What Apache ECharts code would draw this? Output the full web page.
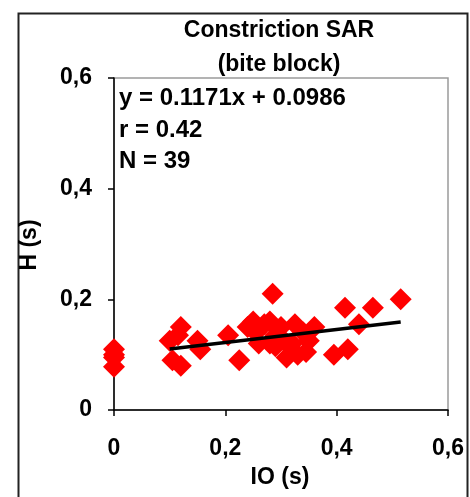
<!DOCTYPE html>
<html>
<head>
<meta charset="utf-8">
<script src="https://cdn.jsdelivr.net/npm/echarts@6/dist/echarts.min.js"></script>
<style>html,body{margin:0;padding:0;background:#fff;}#c{width:470px;height:497px;}</style>
</head>
<body>
<div id="c"></div>
<script>
var ioValues = [0,0,0,0, 0.12,0.115,0.1,0.15,0.105,0.12,0.155, 0.205,0.225,
  0.24,0.255,0.27,0.28,0.26,0.28,0.29,0.3,0.31,0.25,0.29, 0.285,
  0.325,0.34,0.36,0.33,0.345,0.32,0.31,0.35,0.3,
  0.395,0.415,0.42,0.44,0.465,0.515];
var hValues = [0.11,0.1,0.095,0.078, 0.15,0.135,0.125,0.125,0.09,0.08,0.11, 0.135,0.09,
  0.15,0.14,0.155,0.16,0.12,0.12,0.135,0.15,0.12,0.16,0.115, 0.21,
  0.155,0.14,0.15,0.1,0.105,0.12,0.095,0.125,0.13,
  0.1,0.185,0.11,0.155,0.185,0.2];
var trendCoef = [0.1171, 0.0986];
var tickLabels = ['0','0,2','0,4','0,6'];
var titleLines = ['Constriction SAR','(bite block)'];
var statLines = ['y = 0.1171x + 0.0986','r = 0.42','N = 39'];

var pts = ioValues.map(function(x,i){return [x,hValues[i]];});
var pos = ioValues.filter(function(x){return x>0;});
var tx0 = Math.min.apply(null,pos), tx1 = Math.max.apply(null,ioValues);
var trend = [[tx0, trendCoef[0]*tx0+trendCoef[1]],[tx1, trendCoef[0]*tx1+trendCoef[1]]];
function fmt(v){ return tickLabels[Math.round(v/0.2)]; }
var F = 'Liberation Sans, Arial, sans-serif';
var chart = echarts.init(document.getElementById('c'));
chart.setOption({
  animation:false,
  backgroundColor:'#fff',
  grid:{left:114, top:78, right:22, bottom:87, show:true, borderColor:'#9a9a9a', borderWidth:1.5, backgroundColor:'#fff'},
  xAxis:{type:'value', min:0, max:0.6, interval:0.2,
    axisLine:{onZero:false, lineStyle:{color:'#000', width:1.5}},
    axisTick:{show:true, length:6, inside:false, lineStyle:{color:'#000', width:1.5}},
    splitLine:{show:false},
    axisLabel:{formatter:fmt, margin:27, color:'#000', fontFamily:F, fontWeight:'bold', fontSize:23}},
  yAxis:{type:'value', min:0, max:0.6, interval:0.2,
    axisLine:{show:true, onZero:false, lineStyle:{color:'#000', width:1.5}},
    axisTick:{show:true, length:6, inside:false, lineStyle:{color:'#000', width:1.5}},
    splitLine:{show:false},
    axisLabel:{formatter:fmt, margin:22, color:'#000', fontFamily:F, fontWeight:'bold', fontSize:23}},
  series:[
    {type:'scatter', data:pts, symbol:'diamond', symbolSize:22, itemStyle:{color:'#ff0000', opacity:1}, z:2},
    {type:'line', data:trend, symbol:'none', lineStyle:{color:'#000', width:3.5}, z:3}
  ],
  graphic:[
    {type:'rect', left:16, top:11, shape:{width:449, height:500}, style:{fill:'none', stroke:'#222', lineWidth:2}, z:-1, silent:true},
    {type:'text', x:279, y:31, style:{text:titleLines[0], font:'bold 23px '+F, fill:'#000', textAlign:'center', textVerticalAlign:'middle'}},
    {type:'text', x:279, y:65, style:{text:titleLines[1], font:'bold 23px '+F, fill:'#000', textAlign:'center', textVerticalAlign:'middle'}},
    {type:'text', x:119, y:98, style:{text:statLines[0], font:'bold 24px '+F, fill:'#000', textAlign:'left', textVerticalAlign:'middle'}, z:10},
    {type:'text', x:119, y:130, style:{text:statLines[1], font:'bold 24px '+F, fill:'#000', textAlign:'left', textVerticalAlign:'middle'}, z:10},
    {type:'text', x:119, y:161, style:{text:statLines[2], font:'bold 24px '+F, fill:'#000', textAlign:'left', textVerticalAlign:'middle'}, z:10},
    {type:'text', x:30, y:245, rotation:Math.PI/2, style:{text:'H (s)', font:'bold 23px '+F, fill:'#000', textAlign:'center', textVerticalAlign:'middle'}},
    {type:'text', x:280, y:478, style:{text:'IO (s)', font:'bold 23px '+F, fill:'#000', textAlign:'center', textVerticalAlign:'middle'}}
  ]
});
</script>
</body>
</html>
